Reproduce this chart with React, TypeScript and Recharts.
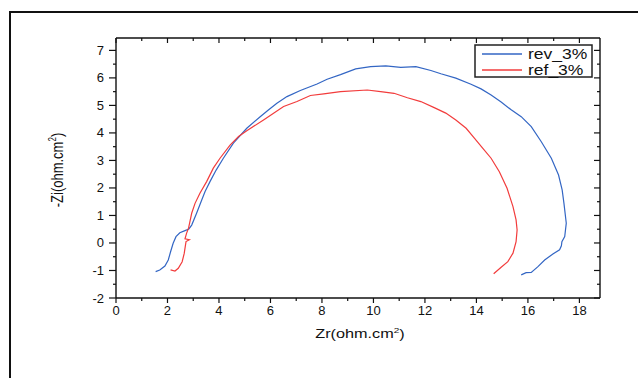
import React from "react";
import { LineChart, Line, XAxis, YAxis, ReferenceLine } from "recharts";

// Nyquist data (Zr, -Zi in ohm.cm2)
const revZr = [1.54, 1.7, 1.9, 2.03, 2.12, 2.22, 2.33, 2.48, 2.68, 2.83, 2.94, 3.13, 3.33, 3.46, 3.65, 3.89, 4.17, 4.56, 5.08, 5.6, 5.93, 6.25, 6.64, 7.16, 7.81, 8.2, 8.72, 9.31, 9.89, 10.48, 11.06, 11.65, 12.23, 12.62, 13.2, 13.79, 14.18, 14.57, 14.96, 15.35, 15.74, 16.13, 16.52, 16.91, 17.19, 17.33, 17.4, 17.49, 17.43, 17.32, 17.3, 17.23, 16.97, 16.65, 16.39, 16.13, 15.93, 15.74];
const revZi = [-1.04, -0.98, -0.84, -0.62, -0.32, -0.01, 0.23, 0.37, 0.45, 0.51, 0.65, 1.08, 1.56, 1.87, 2.23, 2.65, 3.08, 3.63, 4.17, 4.59, 4.84, 5.08, 5.32, 5.54, 5.78, 5.95, 6.12, 6.33, 6.41, 6.44, 6.38, 6.41, 6.27, 6.15, 5.99, 5.77, 5.6, 5.38, 5.12, 4.84, 4.59, 4.23, 3.68, 3.08, 2.47, 1.93, 1.44, 0.72, 0.23, 0.05, -0.1, -0.25, -0.4, -0.62, -0.86, -1.07, -1.08, -1.16];

const refZr = [2.12, 2.29, 2.42, 2.57, 2.65, 2.7, 2.72, 2.85, 2.68, 2.74, 2.82, 2.94, 3.07, 3.26, 3.52, 3.78, 4.04, 4.43, 4.76, 5.08, 5.73, 6.51, 7.03, 7.55, 8.07, 8.72, 9.76, 10.28, 10.8, 11.32, 11.84, 12.36, 12.81, 13.2, 13.6, 13.92, 14.25, 14.57, 14.89, 15.19, 15.42, 15.54, 15.58, 15.54, 15.42, 15.22, 14.96, 14.67];
const refZi = [-0.98, -1.02, -0.92, -0.68, -0.38, -0.07, 0.05, 0.12, 0.15, 0.35, 0.55, 1.08, 1.44, 1.81, 2.23, 2.72, 3.08, 3.56, 3.87, 4.08, 4.47, 4.96, 5.14, 5.36, 5.42, 5.5, 5.56, 5.5, 5.44, 5.28, 5.14, 4.92, 4.72, 4.47, 4.17, 3.81, 3.44, 3.08, 2.59, 1.99, 1.32, 0.84, 0.47, 0.05, -0.37, -0.68, -0.88, -1.12];

const seriesNames = ["rev_3%", "ref_3%"];
const seriesColors = ["#3366c4", "#f23c3c"];

// every integer gets a tick on x, every half on y; labels on the majors
const xTicks = [0, 1, 2, 3, 4, 5, 6, 7, 8, 9, 10, 11, 12, 13, 14, 15, 16, 17, 18];
const yTicks = [-2, -1.5, -1, -0.5, 0, 0.5, 1, 1.5, 2, 2.5, 3, 3.5, 4, 4.5, 5, 5.5, 6, 6.5, 7];
const xDomain = [0, 18.8];
const yDomain = [-2, 7.45];

const rev = revZr.map((x, i) => ({ x, y: revZi[i] }));
const ref = refZr.map((x, i) => ({ x, y: refZi[i] }));

const W = 638;
const H = 378;
const margin = { top: 38, right: 38, bottom: 40, left: 56 };
const plotTop = margin.top;
const plotRight = W - margin.right;

const ink = "#111";
const font = "'Liberation Sans', Arial, sans-serif";

// bottom axis: outward tick + label, plus the matching inward tick on the top frame
const BottomTick = (p: any) => {
  const v = p.payload.value;
  const major = v % 2 === 0;
  return (
    <g>
      <line x1={p.x} x2={p.x} y1={p.y} y2={p.y + (major ? 5 : 3)} stroke={ink} strokeWidth={1.2} />
      <line x1={p.x} x2={p.x} y1={plotTop} y2={plotTop + (major ? 5 : 3)} stroke={ink} strokeWidth={1.2} />
      {major && (
        <text x={p.x} y={p.y + 17} textAnchor="middle" fontSize={13} fill={ink} fontFamily={font}>
          {v}
        </text>
      )}
    </g>
  );
};

// left axis: outward tick + label, plus the inward tick on the right frame
const LeftTick = (p: any) => {
  const v = p.payload.value;
  const major = Number.isInteger(v);
  return (
    <g>
      <line x1={p.x - (major ? 7 : 3)} x2={p.x} y1={p.y} y2={p.y} stroke={ink} strokeWidth={1.2} />
      <line x1={plotRight - (major ? 6 : 3)} x2={plotRight} y1={p.y} y2={p.y} stroke={ink} strokeWidth={1.2} />
      {major && (
        <text x={p.x - 12} y={p.y + 4.5} textAnchor="end" fontSize={13} fill={ink} fontFamily={font}>
          {v}
        </text>
      )}
    </g>
  );
};

const XTitle = (p: any) => {
  const vb = p.viewBox || { x: 116, y: 298, width: 484, height: 40 };
  const cx = vb.x + vb.width / 2 + 2;
  return (
    <text transform={`translate(${cx},${vb.y + 40}) scale(1.25,1)`} textAnchor="middle" fontSize={13} fill={ink} fontFamily={font}>
      Zr(ohm.cm<tspan fontSize={8} dy={-5}>2</tspan>
      <tspan dy={5}>)</tspan>
    </text>
  );
};

const YTitle = (p: any) => {
  const vb = p.viewBox || { x: 56, y: 38, width: 60, height: 260 };
  const cy = vb.y + vb.height / 2 + 2;
  return (
    <text transform={`translate(57,${cy}) scale(1.25,1) rotate(-90)`} y={4.5} textAnchor="middle" fontSize={13} fill={ink} fontFamily={font}>
      -Zi(ohm.cm<tspan fontSize={8} dy={-5}>2</tspan>
      <tspan dy={5}>)</tspan>
    </text>
  );
};

const LegendBox = () => (
  <svg width={120} height={36} style={{ position: "absolute", left: 474, top: 44 }}>
    <rect x={1} y={1} width={117} height={32} fill="#fff" stroke="#222" strokeWidth={1.5} />
    {seriesNames.map((name, i) => (
      <g key={name}>
        <line x1={8} x2={48} y1={10 + i * 16} y2={10 + i * 16} stroke={seriesColors[i]} strokeWidth={1.3} />
        <text transform={`translate(54,${15 + i * 16}) scale(1.25,1)`} fontSize={14} fill={ink} fontFamily={font}>
          {name}
        </text>
      </g>
    ))}
  </svg>
);

export default function App() {
  return (
    <div style={{ position: "absolute", left: 0, top: 0, width: W, height: H, overflow: "hidden", background: "#fff", fontFamily: font }}>
      <div style={{ position: "absolute", left: 9, top: 11, width: 700, height: 500, borderTop: `2px solid ${ink}`, borderLeft: `2px solid ${ink}` }} />
      <LineChart width={W} height={H} margin={margin} style={{ position: "absolute", left: 0, top: 0 }}>
        <XAxis
          type="number"
          dataKey="x"
          domain={xDomain}
          allowDataOverflow
          ticks={xTicks}
          interval={0}
          height={40}
          tickSize={0}
          tickMargin={0}
          tickLine={false}
          axisLine={{ stroke: ink, strokeWidth: 1.4 }}
          tick={<BottomTick />}
          label={<XTitle />}
        />
        <YAxis
          type="number"
          dataKey="y"
          domain={yDomain}
          allowDataOverflow
          ticks={yTicks}
          interval={0}
          width={60}
          tickSize={0}
          tickMargin={0}
          tickLine={false}
          axisLine={{ stroke: ink, strokeWidth: 1.4 }}
          tick={<LeftTick />}
          label={<YTitle />}
        />
        <ReferenceLine y={yDomain[1]} stroke={ink} strokeWidth={1.4} />
        <ReferenceLine x={xDomain[1]} stroke={ink} strokeWidth={1.4} />
        <Line data={rev} dataKey="y" name={seriesNames[0]} type="linear" stroke={seriesColors[0]} strokeWidth={1.2} dot={false} isAnimationActive={false} />
        <Line data={ref} dataKey="y" name={seriesNames[1]} type="linear" stroke={seriesColors[1]} strokeWidth={1.2} dot={false} isAnimationActive={false} />
      </LineChart>
      <LegendBox />
    </div>
  );
}
